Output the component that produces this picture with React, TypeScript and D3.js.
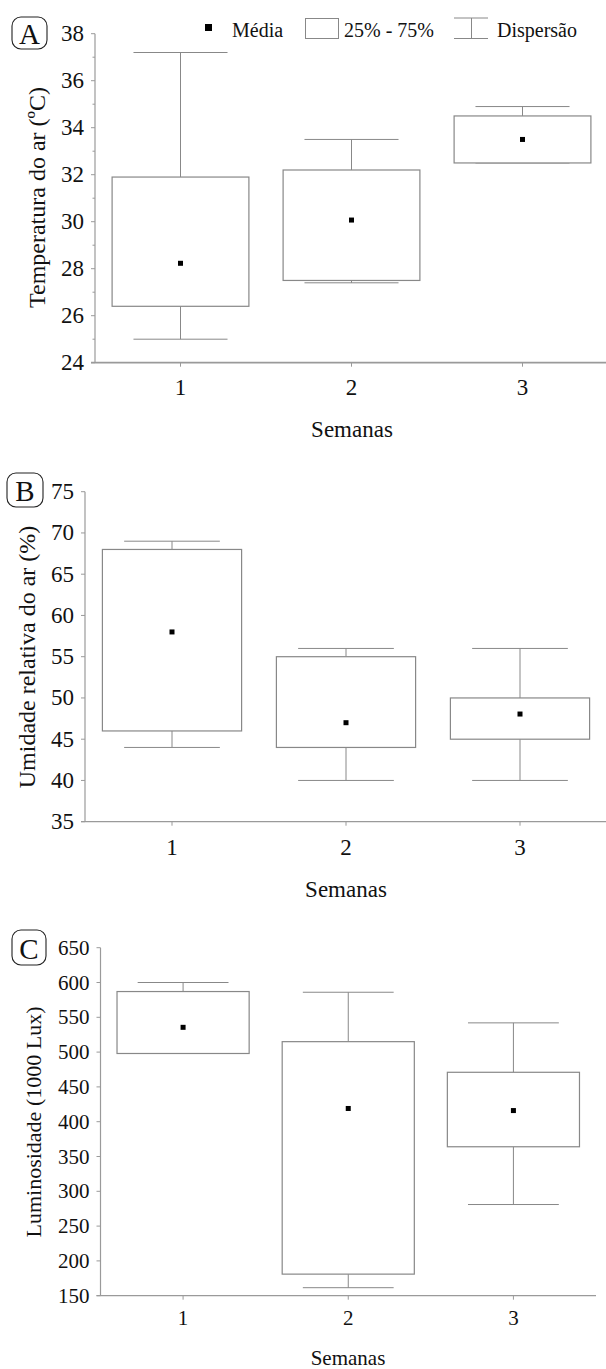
import React from "react";
import * as d3 from "d3";

// ---------- data ----------
const weeks = [1, 2, 3];
const weekLabels = ["1", "2", "3"];

const tempMean = [28.23, 30.07, 33.5];
const tempQ1 = [26.4, 27.5, 32.5];
const tempQ3 = [31.9, 32.2, 34.5];
const tempMin = [25.0, 27.4, 32.5];
const tempMax = [37.2, 33.5, 34.9];
const tempTicks = [24, 26, 28, 30, 32, 34, 36, 38];
const tempMinorTicks = [25, 27, 29, 31, 33, 35, 37];

const humMean = [58.0, 47.0, 48.05];
const humQ1 = [46, 44, 45];
const humQ3 = [68, 55, 50];
const humMin = [44, 40, 40];
const humMax = [69, 56, 56];
const humTicks = [35, 40, 45, 50, 55, 60, 65, 70, 75];

const luxMean = [535.6, 419, 416];
const luxQ1 = [498, 181, 364];
const luxQ3 = [587, 515, 471];
const luxMin = [498, 161.5, 281];
const luxMax = [600, 586, 542];
const luxTicks = [150, 200, 250, 300, 350, 400, 450, 500, 550, 600, 650];

const legendLabels = ["Média", "25% - 75%", "Dispersão"];

const FONT = "Liberation Serif";
const AXIS = "#9a9a9a";
const BOX = "#888888";

type PanelProps = {
  letter: string;
  letterBox: [number, number, number, number];
  xRange: [number, number];
  axisEnd: number;
  yDomain: [number, number];
  yRange: [number, number];
  ticks: number[];
  minor?: number[];
  mean: number[];
  q1: number[];
  q3: number[];
  mn: number[];
  mx: number[];
  yLabel: string;
  yLabelPos: [number, number];
  yLabelSize: number;
  tickSize: number;
  xLabelBase: number;
  xTitlePos: [number, number];
  xTitleSize: number;
  axisWidth: number;
};

function Panel(p: PanelProps) {
  const x = d3.scaleLinear().domain([0.5, 3.5]).range(p.xRange);
  const y = d3.scaleLinear().domain(p.yDomain).range(p.yRange);
  const step = x(2) - x(1);
  const boxW = step * 0.8;
  const capW = step * 0.55;
  const x0 = p.xRange[0];
  const yBottom = y(p.yDomain[0]);
  const yTop = y(p.yDomain[1]);
  const [lx, ly, lw, lh] = p.letterBox;
  return (
    <g>
      <rect x={lx} y={ly} width={lw} height={lh} rx={9} ry={9} fill="white" stroke="#222" strokeWidth={1.1} />
      <text x={lx + lw / 2} y={ly + lh / 2 + 1} textAnchor="middle" dominantBaseline="central" style={{ fontFamily: FONT }} fontSize={29} fill="#111">
        {p.letter}
      </text>

      {weeks.map((w, i) => {
        const cx = x(w);
        return (
          <g key={w}>
            <line x1={cx} x2={cx} y1={y(p.mx[i])} y2={y(p.q3[i])} stroke={BOX} strokeWidth={1} />
            <line x1={cx} x2={cx} y1={y(p.q1[i])} y2={y(p.mn[i])} stroke={BOX} strokeWidth={1} />
            <line x1={cx - capW / 2} x2={cx + capW / 2} y1={y(p.mx[i])} y2={y(p.mx[i])} stroke={BOX} strokeWidth={1} />
            <line x1={cx - capW / 2} x2={cx + capW / 2} y1={y(p.mn[i])} y2={y(p.mn[i])} stroke={BOX} strokeWidth={1} />
            <rect x={cx - boxW / 2} y={y(p.q3[i])} width={boxW} height={y(p.q1[i]) - y(p.q3[i])} fill="white" stroke={BOX} strokeWidth={1.2} />
            <rect x={cx - 2.5} y={y(p.mean[i]) - 2.5} width={5} height={5} fill="#000" />
          </g>
        );
      })}

      <line x1={x0} x2={x0} y1={yTop} y2={yBottom} stroke={AXIS} strokeWidth={1.2} />
      <line x1={x0 - 4} x2={p.axisEnd} y1={yBottom} y2={yBottom} stroke={AXIS} strokeWidth={p.axisWidth} />
      {p.ticks.map((t) => (
        <g key={t}>
          <line x1={x0 - 4} x2={x0} y1={y(t)} y2={y(t)} stroke={AXIS} strokeWidth={1} />
          <text x={x0 - 11} y={y(t)} textAnchor="end" dominantBaseline="central" style={{ fontFamily: FONT }} fontSize={p.tickSize} fill="#111">
            {t}
          </text>
        </g>
      ))}
      {(p.minor || []).map((t) => (
        <line key={t} x1={x0 - 2.5} x2={x0} y1={y(t)} y2={y(t)} stroke={AXIS} strokeWidth={1} />
      ))}
      {weeks.map((w, i) => (
        <g key={w}>
          <line x1={x(w)} x2={x(w)} y1={yBottom} y2={yBottom + 4} stroke={AXIS} strokeWidth={1} />
          <text x={x(w)} y={p.xLabelBase} textAnchor="middle" style={{ fontFamily: FONT }} fontSize={p.tickSize} fill="#111">
            {weekLabels[i]}
          </text>
        </g>
      ))}
      <text x={p.xTitlePos[0]} y={p.xTitlePos[1]} textAnchor="middle" style={{ fontFamily: FONT }} fontSize={p.xTitleSize} fill="#111">
        Semanas
      </text>
      <text
        transform={`translate(${p.yLabelPos[0]},${p.yLabelPos[1]}) rotate(-90)`}
        textAnchor="middle"
        style={{ fontFamily: FONT }}
        fontSize={p.yLabelSize}
        fill="#111"
      >
        {p.yLabel}
      </text>
    </g>
  );
}

export default function App() {
  return (
    <svg width={606} height={1369} style={{ position: "absolute", left: 0, top: 0, background: "white", fontFamily: FONT }}>
      <rect width={606} height={1369} fill="white" />
      <g style={{ fontFamily: FONT }} fontSize={20} fill="#111">
        <rect x={205} y={24} width={7} height={7} fill="#000" />
        <text x={232} y={37}>{legendLabels[0]}</text>
        <rect x={305.5} y={18.5} width={33} height={20} fill="white" stroke={BOX} strokeWidth={1} />
        <text x={344} y={37}>{legendLabels[1]}</text>
        <line x1={454} x2={488} y1={18} y2={18} stroke={BOX} strokeWidth={1} />
        <line x1={454} x2={488} y1={38.5} y2={38.5} stroke={BOX} strokeWidth={1} />
        <line x1={471.5} x2={471.5} y1={18} y2={38.5} stroke={BOX} strokeWidth={1} />
        <text x={497} y={37}>{legendLabels[2]}</text>
      </g>

      <Panel
        letter="A"
        letterBox={[12, 17, 35, 32]}
        xRange={[95, 608]}
        axisEnd={606}
        yDomain={[24, 38]}
        yRange={[362.7, 33.7]}
        ticks={tempTicks}
        minor={tempMinorTicks}
        mean={tempMean}
        q1={tempQ1}
        q3={tempQ3}
        mn={tempMin}
        mx={tempMax}
        yLabel="Temperatura do ar (ºC)"
        yLabelPos={[45, 197.5]}
        yLabelSize={24}
        tickSize={23}
        xLabelBase={395}
        xTitlePos={[352, 437]}
        xTitleSize={23}
        axisWidth={1.8}
      />
      <Panel
        letter="B"
        letterBox={[7, 473, 36, 34]}
        xRange={[85, 607]}
        axisEnd={606}
        yDomain={[35, 75]}
        yRange={[821.7, 491.7]}
        ticks={humTicks}
        mean={humMean}
        q1={humQ1}
        q3={humQ3}
        mn={humMin}
        mx={humMax}
        yLabel="Umidade relativa do ar (%)"
        yLabelPos={[35, 657]}
        yLabelSize={24}
        tickSize={23}
        xLabelBase={855}
        xTitlePos={[346, 897]}
        xTitleSize={23}
        axisWidth={1.2}
      />
      <Panel
        letter="C"
        letterBox={[12, 930, 34, 35]}
        xRange={[100.5, 596]}
        axisEnd={596}
        yDomain={[150, 650]}
        yRange={[1295.7, 947.7]}
        ticks={luxTicks}
        mean={luxMean}
        q1={luxQ1}
        q3={luxQ3}
        mn={luxMin}
        mx={luxMax}
        yLabel="Luminosidade (1000 Lux)"
        yLabelPos={[41, 1122]}
        yLabelSize={22}
        tickSize={21}
        xLabelBase={1325}
        xTitlePos={[348, 1365]}
        xTitleSize={21}
        axisWidth={1.2}
      />
    </svg>
  );
}
